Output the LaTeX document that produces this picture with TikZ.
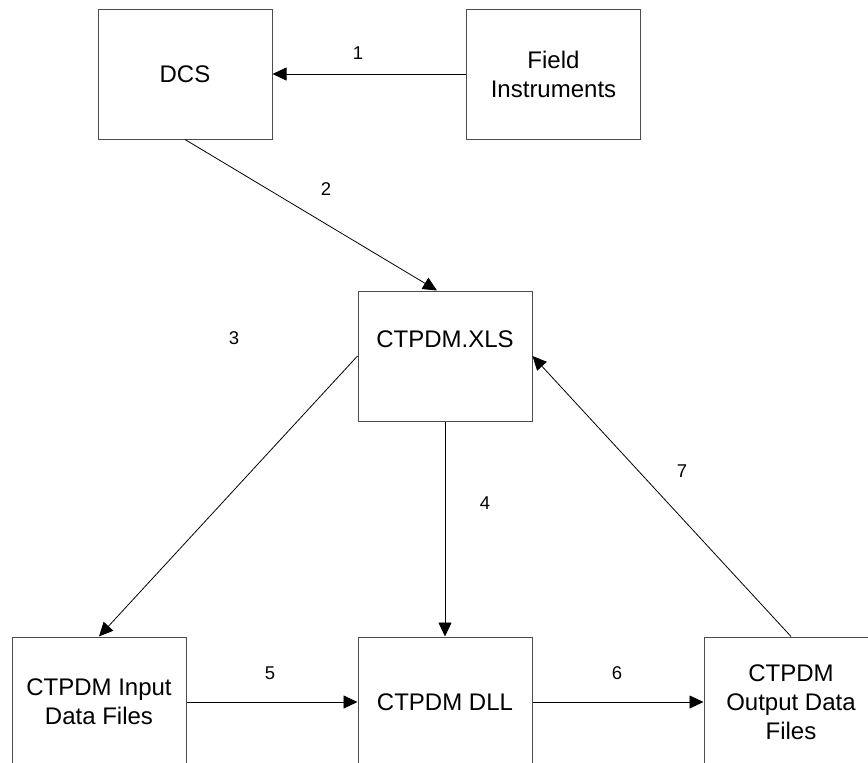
\documentclass[tikz,border=0pt]{standalone}
\usepackage{fontspec}
\setmainfont{Liberation Sans}
\usetikzlibrary{arrows.meta}

\tikzset{
  block/.style={shape=rectangle,draw=black!70,align=center,line width=1pt,minimum width=174pt,minimum height=130pt,inner sep=0pt,font=\fontsize{24}{29}\selectfont},
  flow/.style={-{Triangle[length=14pt,width=13pt]},draw=black,line width=0.8pt},
  num/.style={align=center,inner sep=0pt,font=\fontsize{18.5}{20}\selectfont}
}

\begin{document}
\begin{tikzpicture}[x=1pt,y=-1pt]
\useasboundingbox (0,0) rectangle (868,763);
\clip (0,0) rectangle (868,763);
\node[block] (0) at (185,74) {DCS};
\node[block] (1) at (553.5,74) {Field\\Instruments};
\node[block] (2) at (445,356) {CTPDM.XLS\\[4pt]};
\node[block] (3) at (99,702) {CTPDM Input\\Data Files};
\node[block] (4) at (445,702) {CTPDM DLL};
\node[block] (5) at (791,702) {CTPDM\\Output Data\\Files};

\node[num] (n1) at (358,53) {1};
\node[num] (n2) at (326,189) {2};
\node[num] (n3) at (234,338) {3};
\node[num] (n4) at (485,503) {4};
\node[num] (n5) at (270,673) {5};
\node[num] (n6) at (617,673) {6};
\node[num] (n7) at (682,471) {7};

\draw [flow] (1.west) -- (0.east);
\draw [flow] (0.south) -- ([xshift=-8pt]2.north);
\draw [flow] (2.west) -- (3.north);
\draw [flow] (2.south) -- (4.north);
\draw [flow] (3.east) -- (4.west);
\draw [flow] (4.east) -- (5.west);
\draw [flow] (5.north) -- (2.east);
\end{tikzpicture}
\end{document}
